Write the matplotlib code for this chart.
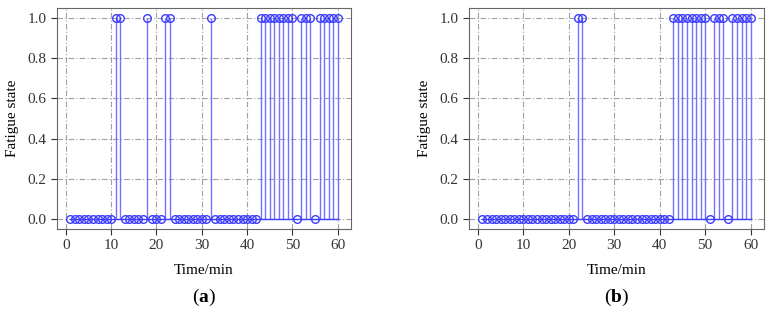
import numpy as np
import matplotlib
matplotlib.use('Agg')
import matplotlib.pyplot as plt

# Time in minutes
time_min = np.arange(1, 61)

# Minutes where fatigue state == 1
fatigue_a_on = [11, 12, 18, 22, 23, 32, 43, 44, 45, 46, 47, 48, 49, 50,
                52, 53, 54, 56, 57, 58, 59, 60]
fatigue_b_on = [22, 23, 43, 44, 45, 46, 47, 48, 49, 50,
                52, 53, 54, 56, 57, 58, 59, 60]

state_a = np.array([1.0 if t in fatigue_a_on else 0.0 for t in time_min])
state_b = np.array([1.0 if t in fatigue_b_on else 0.0 for t in time_min])

panel_labels = ['a', 'b']
y_ticks = [0.0, 0.2, 0.4, 0.6, 0.8, 1.0]
x_ticks = [0, 10, 20, 30, 40, 50, 60]

plt.rcParams['font.family'] = ['Liberation Serif', 'DejaVu Serif']
plt.rcParams['mathtext.fontset'] = 'custom'
plt.rcParams['mathtext.rm'] = 'Liberation Serif'
plt.rcParams['mathtext.bf'] = 'Liberation Serif:bold'

fig = plt.figure(figsize=(7.73, 3.16), dpi=100)
W, H = 773, 316
axes_px = [(57, 8, 351, 229), (469, 8, 764, 229)]

for (l, t, r, b), state, lab in zip(axes_px, [state_a, state_b], panel_labels):
    ax = fig.add_axes([l / W, 1 - b / H, (r - l) / W, (b - t) / H])
    ax.grid(True, color='#a0a0a0', linestyle=(0, (5, 2, 1, 2)), linewidth=0.8)
    ax.set_axisbelow(True)
    ml, sl, bl = ax.stem(time_min, state, linefmt='-', markerfmt='o', basefmt='-')
    plt.setp(sl, color='#7272ff', linewidth=1.0)
    plt.setp(ml, markerfacecolor='none', markeredgecolor='#3c3cff',
             markersize=5.5, markeredgewidth=1.0)
    plt.setp(bl, color='#3c3cff', linewidth=1.0)
    ax.margins(0.05)
    ax.set_xticks(x_ticks)
    ax.set_yticks(y_ticks)
    ax.set_yticklabels([f'{v:.1f}' for v in y_ticks])
    ax.tick_params(labelsize=11, colors='#333333', length=4)
    for s in ax.spines.values():
        s.set_color('#666666')
    ax.set_xlabel('Time/min', fontsize=11, labelpad=8)
    ax.set_ylabel('Fatigue state', fontsize=11, labelpad=6)
    cx = (l + r) / 2 / W
    fig.text(cx, 1 - 297 / H, r'($\mathbf{' + lab + r'}$)', ha='center', va='center',
             fontsize=14)

fig.savefig('out.png', dpi=100)
